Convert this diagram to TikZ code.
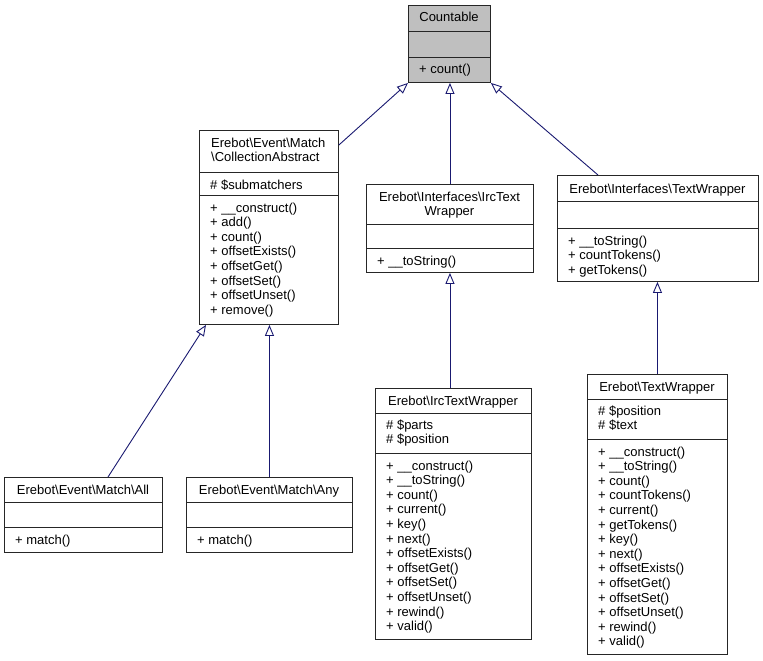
\documentclass[tikz,border=0pt]{standalone}
\usepackage{fontspec}
\setmainfont{Liberation Sans}
\usetikzlibrary{arrows.meta}
\definecolor{edgec}{HTML}{191970}
\definecolor{topfill}{HTML}{BFBFBF}
\newcommand\bs{\textbackslash}
\newcommand\umlbox[8]{%
  \node[classbox, fill=#8, minimum width=#4-#2, minimum height=#7-#3] (#1) at (#2,#3) {};
  \draw[sepline] (#2,#5) -- (#4,#5);
  \draw[sepline] (#2,#6) -- (#4,#6);
}
\newcommand\textlines[5]{%
  \foreach \t [count=\i] in {#5}{\node[#4] (#1-\i) at (#2, #3+\i*14.6-14.6) {\t};}%
}
\begin{document}
\begin{tikzpicture}[x=1pt,y=-1pt,
  font=\fontsize{13}{14.6}\selectfont,
  classbox/.style={draw=black!85, line width=0.9pt, inner sep=0, anchor=north west},
  sepline/.style={draw=black!85, line width=0.9pt},
  txt/.style={inner sep=0, anchor=base west},
  ttl/.style={inner sep=0, anchor=base},
  inherit/.style={draw=edgec, line width=0.9pt,
    -{Triangle[open, length=11pt, width=9pt, fill=white]}}]
\useasboundingbox (0,0) rectangle (763,661);

% Countable
\umlbox{cnt}{408}{5}{490}{31}{57}{82}{topfill}
\textlines{cntt}{449}{22}{ttl}{Countable}
\textlines{cntm}{419}{74}{txt}{+ count()}

% CollectionAbstract
\umlbox{ca}{199}{130}{338}{172}{195}{324}{white}
\textlines{cat}{211}{147}{txt}{Erebot\bs Event\bs Match,\bs CollectionAbstract}
\textlines{caa}{210}{189}{txt}{\# \$submatchers}
\textlines{cam}{210}{212}{txt}{+ \_\_construct(),+ add(),+ count(),+ offsetExists(),+ offsetGet(),+ offsetSet(),+ offsetUnset(),+ remove()}

% Interfaces IrcTextWrapper
\umlbox{iitw}{366}{184}{533}{224}{248}{272}{white}
\textlines{iitwt}{449.5}{201}{ttl}{Erebot\bs Interfaces\bs IrcText,Wrapper}
\textlines{iitwm}{377}{265}{txt}{+ \_\_toString()}

% Interfaces TextWrapper
\umlbox{itw}{557}{175}{758}{201}{228}{281}{white}
\textlines{itwt}{657.5}{193}{ttl}{Erebot\bs Interfaces\bs TextWrapper}
\textlines{itwm}{568}{245}{txt}{+ \_\_toString(),+ countTokens(),+ getTokens()}

% Match All
\umlbox{all}{4}{477}{162}{502}{527}{552}{white}
\textlines{allt}{83}{494}{ttl}{Erebot\bs Event\bs Match\bs All}
\textlines{allm}{15}{544}{txt}{+ match()}

% Match Any
\umlbox{any}{186}{477}{352}{502}{527}{552}{white}
\textlines{anyt}{269}{494}{ttl}{Erebot\bs Event\bs Match\bs Any}
\textlines{anym}{197}{544}{txt}{+ match()}

% IrcTextWrapper
\umlbox{irc}{375}{388}{531}{413}{453}{639}{white}
\textlines{irct}{453}{405}{ttl}{Erebot\bs IrcTextWrapper}
\textlines{irca}{386}{429}{txt}{\# \$parts,\# \$position}
\textlines{ircm}{386}{470}{txt}{+ \_\_construct(),+ \_\_toString(),+ count(),+ current(),+ key(),+ next(),+ offsetExists(),+ offsetGet(),+ offsetSet(),+ offsetUnset(),+ rewind(),+ valid()}

% TextWrapper
\umlbox{tw}{587}{374}{727}{399}{439}{654}{white}
\textlines{twt}{657}{391}{ttl}{Erebot\bs TextWrapper}
\textlines{twa}{598}{415}{txt}{\# \$position,\# \$text}
\textlines{twm}{598}{456}{txt}{+ \_\_construct(),+ \_\_toString(),+ count(),+ countTokens(),+ current(),+ getTokens(),+ key(),+ next(),+ offsetExists(),+ offsetGet(),+ offsetSet(),+ offsetUnset(),+ rewind(),+ valid()}

% inheritance edges
\draw[inherit] ([yshift=-15pt]ca.north east) -- (cnt.south west);
\draw[inherit] (iitw.north) -- (iitw.north |- cnt.south);
\draw[inherit] ([xshift=41pt]itw.north west) -- (cnt.south east);
\draw[inherit] ([xshift=104pt]all.north west) -- ([xshift=7pt]ca.south west);
\draw[inherit] (any.north) -- (any.north |- ca.south);
\draw[inherit] (iitw.south |- irc.north) -- (iitw.south);
\draw[inherit] (tw.north) -- (tw.north |- itw.south);
\end{tikzpicture}
\end{document}
